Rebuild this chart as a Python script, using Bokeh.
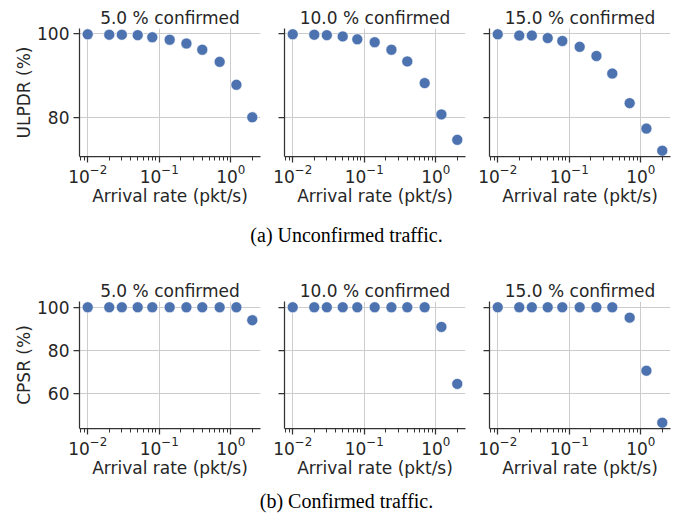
import math
from bokeh.plotting import figure
from bokeh.layouts import column, row
from bokeh.models import Range1d, FixedTicker, LogTicker, Label, CustomJSTickFormatter
from bokeh.embed import file_html
from bokeh.resources import INLINE

# ---------------- data ----------------
arrival_rate = [0.01, 0.02, 0.03, 0.05, 0.08, 0.14, 0.24, 0.4, 0.7, 1.2, 2.0]
panel_titles = ["5.0 % confirmed", "10.0 % confirmed", "15.0 % confirmed"]

ulpdr_5 = [99.9, 99.8, 99.8, 99.7, 99.2, 98.6, 97.7, 96.2, 93.3, 87.8, 80.0]
ulpdr_10 = [99.9, 99.8, 99.7, 99.4, 98.7, 98.0, 96.2, 93.4, 88.2, 80.7, 74.6]
ulpdr_15 = [99.9, 99.6, 99.6, 99.0, 98.3, 96.9, 94.7, 90.5, 83.4, 77.3, 72.0]

cpsr_5 = [100, 100, 100, 100, 100, 100, 100, 100, 100, 100, 94.0]
cpsr_10 = [100, 100, 100, 100, 100, 100, 100, 100, 100, 90.9, 64.5]
cpsr_15 = [100, 100, 100, 100, 100, 100, 100, 100, 95.2, 70.6, 46.5]

ulpdr_ticks = [80, 100]
cpsr_ticks = [60, 80, 100]

x_label = "Arrival rate (pkt/s)"
ulpdr_label = "ULPDR (%)"
cpsr_label = "CPSR (%)"
caption_a = "(a) Unconfirmed traffic."
caption_b = "(b) Confirmed traffic."

# ---------------- style ----------------
FONT = "DejaVu Sans"
TXT = "#262626"
SPINE = "#333333"
GRID = "#cccccc"
DOT = "#4C72B0"
FS = "17px"

W = 684
LEFT = [79, 12, 12]
RIGHT = [12, 12, 14]
FRAME_W = 181


def log_range(xs):
    lo, hi = math.log10(min(xs)), math.log10(max(xs))
    pad = 0.05 * (hi - lo)
    return Range1d(10 ** (lo - pad), 10 ** (hi + pad))


def lin_range(series):
    vals = [v for s in series for v in s]
    lo, hi = min(vals), max(vals)
    pad = 0.05 * (hi - lo)
    return (lo - pad, hi + pad)


def panel(i, title, ys, yr, yticks, ylabel, top, frame_h, bottom):
    p = figure(
        x_axis_type="log",
        frame_width=FRAME_W,
        frame_height=frame_h,
        min_border_left=LEFT[i],
        min_border_right=RIGHT[i],
        min_border_top=top,
        min_border_bottom=bottom,
        x_range=log_range(arrival_rate),
        y_range=Range1d(*yr),
        toolbar_location=None,
        output_backend="svg",
        background_fill_color="white",
        border_fill_color="white",
    )
    p.outline_line_color = None
    p.title.text = title
    p.title.align = "center"
    p.title.text_font = FONT
    p.title.text_font_size = FS
    p.title.text_font_style = "normal"
    p.title.text_color = TXT
    p.title.standoff = 2

    xa = p.xaxis[0]
    xa.ticker = LogTicker(num_minor_ticks=10)
    xa.axis_label = x_label
    ya = p.yaxis[0]
    ya.ticker = FixedTicker(ticks=yticks)
    if i == 0:
        ya.axis_label = ylabel
    else:
        ya.formatter = CustomJSTickFormatter(code="return ''")
    for ax in (xa, ya):
        ax.axis_line_color = SPINE
        ax.axis_line_width = 1.25
        ax.major_tick_line_color = SPINE
        ax.major_tick_line_width = 1.25
        ax.minor_tick_line_color = SPINE
        ax.minor_tick_line_width = 1.0
        ax.major_tick_in = 0
        ax.major_tick_out = 6
        ax.minor_tick_in = 0
        ax.minor_tick_out = 4
        ax.major_label_text_font = FONT
        ax.major_label_text_color = TXT
        ax.major_label_text_font_size = FS
        ax.axis_label_text_font = FONT
        ax.axis_label_text_font_size = FS
        ax.axis_label_text_font_style = "normal"
        ax.axis_label_text_color = TXT
    xa.major_label_standoff = 1
    xa.axis_label_standoff = 0
    ya.major_label_standoff = 4
    ya.axis_label_standoff = 0

    p.xgrid.grid_line_color = GRID
    p.ygrid.grid_line_color = GRID
    p.xgrid.grid_line_width = 1
    p.ygrid.grid_line_width = 1

    p.scatter(arrival_rate, ys, size=11, fill_color=DOT, line_color="white", line_width=0.6)
    return p


def caption(text, h, yc):
    c = figure(
        width=W,
        height=h,
        x_range=Range1d(0, W),
        y_range=Range1d(0, h),
        x_axis_location=None,
        y_axis_location=None,
        toolbar_location=None,
        output_backend="svg",
        min_border=0,
        border_fill_color="white",
    )
    c.outline_line_color = None
    c.xgrid.visible = False
    c.ygrid.visible = False
    c.add_layout(
        Label(
            x=346,
            y=h - yc,
            text=text,
            text_align="center",
            text_baseline="middle",
            text_font="Liberation Serif",
            text_font_size="20px",
            text_color="black",
        )
    )
    return c


ul = [ulpdr_5, ulpdr_10, ulpdr_15]
cp = [cpsr_5, cpsr_10, cpsr_15]
yr_top = lin_range(ul)
yr_bot = lin_range(cp)

row1 = row(*[panel(i, panel_titles[i], ul[i], yr_top, ulpdr_ticks, ulpdr_label, 28, 128, 56) for i in range(3)], spacing=0)
row2 = row(*[panel(i, panel_titles[i], cp[i], yr_bot, cpsr_ticks, cpsr_label, 43, 127, 56) for i in range(3)], spacing=0)

layout = column(row1, caption(caption_a, 46, 22), row2, caption(caption_b, 33, 16), spacing=0)

open("out.html", "w").write(file_html(layout, INLINE))
